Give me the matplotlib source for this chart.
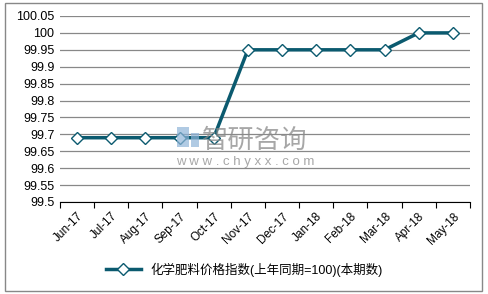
import matplotlib.pyplot as plt
from matplotlib.patches import Rectangle

months = ["Jun-17", "Jul-17", "Aug-17", "Sep-17", "Oct-17", "Nov-17",
          "Dec-17", "Jan-18", "Feb-18", "Mar-18", "Apr-18", "May-18"]
values = [99.69, 99.69, 99.69, 99.69, 99.69, 99.95,
          99.95, 99.95, 99.95, 99.95, 100.0, 100.0]
yticks = [99.5, 99.55, 99.6, 99.65, 99.7, 99.75, 99.8, 99.85, 99.9, 99.95, 100.0, 100.05]
ylabels = ["99.5", "99.55", "99.6", "99.65", "99.7", "99.75", "99.8", "99.85",
           "99.9", "99.95", "100", "100.05"]
series_name = "化学肥料价格指数(上年同期=100)(本期数)"

plt.rcParams['font.family'] = ['Liberation Sans', 'Noto Sans CJK SC', 'DejaVu Sans']

fig = plt.figure(figsize=(4.89, 2.94), dpi=100)
ax = fig.add_axes([0.1227, 0.313, 0.961 - 0.1227, 0.9456 - 0.313])

# outer frame
fig.patches.append(Rectangle((4.5 / 489, 3 / 294), 478 / 489, 288 / 294,
                             transform=fig.transFigure, fill=False,
                             edgecolor='#888888', linewidth=1))

x = range(len(months))
ax.plot(x, values, color='#0b5a6f', linewidth=2.5, marker='D', markersize=6.5,
        markerfacecolor='white', markeredgecolor='#0b5a6f', markeredgewidth=1,
        label=series_name, zorder=3)

ax.set_xlim(-0.5, len(months) - 0.5)
ax.set_ylim(99.5, 100.05)
ax.set_yticks(yticks)
ax.set_yticklabels(ylabels, fontsize=9)
ax.set_xticks([i - 0.5 for i in range(len(months) + 1)], minor=False)
ax.set_xticklabels([])
ax.set_xticks(list(x), minor=True)
ax.set_xticklabels(months, minor=True, rotation=45, ha='right',
                   rotation_mode='anchor', fontsize=8.5)
ax.tick_params(axis='x', which='major', length=4, direction='out', color='black')
ax.tick_params(axis='x', which='minor', length=0, pad=6)
ax.tick_params(axis='y', length=0, pad=4)

ax.grid(axis='y', color='#888888', linewidth=0.9)
ax.set_axisbelow(True)
for s in ['left', 'right', 'top']:
    ax.spines[s].set_visible(False)
ax.spines['bottom'].set_color('black')

# watermark
fig.patches.append(Rectangle((177 / 489, 1 - 147 / 294), 12 / 489, 20 / 294,
                             transform=fig.transFigure, facecolor='#8fb4d8',
                             edgecolor='none', alpha=0.7, zorder=5))
fig.patches.append(Rectangle((191 / 489, 1 - 147 / 294), 8 / 489, 14 / 294,
                             transform=fig.transFigure, facecolor='#8fb4d8',
                             edgecolor='none', alpha=0.7, zorder=5))
fig.text(202 / 489, 1 - 148 / 294, "智研咨询", fontsize=19, color='#8a8a8a',
         alpha=0.75, family=['Noto Sans CJK SC'], zorder=5)
fig.text(176 / 489, 1 - 165 / 294, "w w w . c h y x x . c o m", fontsize=9.5,
         color='#8a8a8a', alpha=0.75, zorder=5)

fig.legend(loc='center', bbox_to_anchor=(0.5, 0.083), frameon=False,
           fontsize=9, handlelength=2.8)

fig.savefig("out.png", dpi=100)
